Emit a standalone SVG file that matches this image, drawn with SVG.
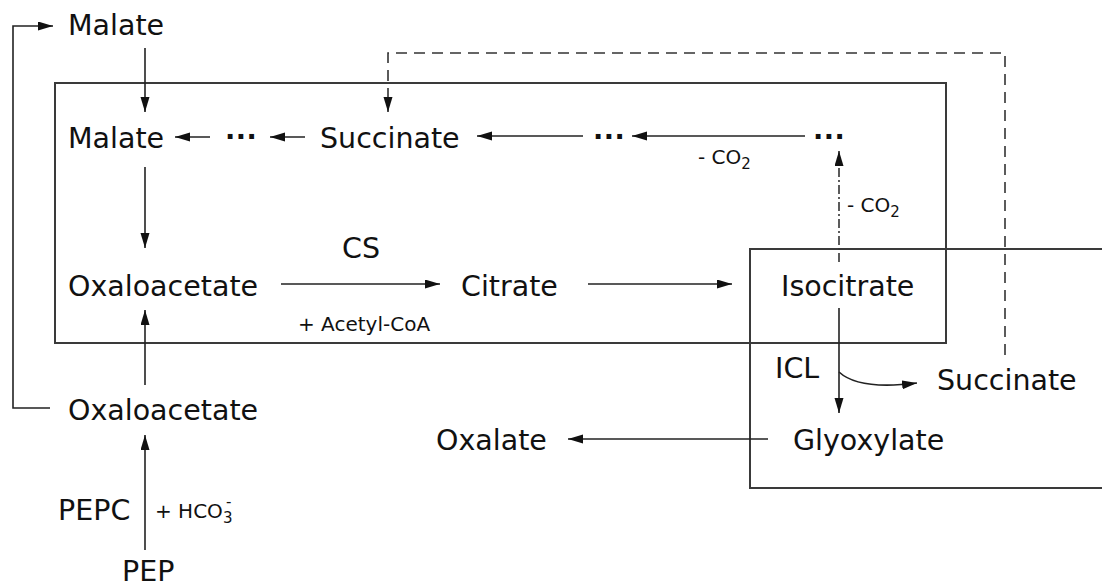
<svg xmlns="http://www.w3.org/2000/svg" width="1102" height="588" viewBox="0 0 1102 588">
<style>
text{font-family:"DejaVu Sans","Verdana",sans-serif;fill:#111}
.L{font-size:28.5px}
.S{font-size:20px}
.sub{font-size:15px}
.ln{fill:none;stroke:#222;stroke-width:1.6}
.box{fill:none;stroke:#3a3a3a;stroke-width:2}
.dash{fill:none;stroke:#333;stroke-width:1.6;stroke-dasharray:11 7}
.dd{fill:none;stroke:#333;stroke-width:1.6;stroke-dasharray:9 3 2 3}
.dots{font-size:27px;font-weight:bold;letter-spacing:0.5px}
</style>
<defs>
<marker id="ah" markerUnits="userSpaceOnUse" markerWidth="16" markerHeight="10" refX="15" refY="4.5" orient="auto">
<path d="M0,0 L15,4.5 L0,9 z" fill="#111"/>
</marker>
</defs>
<g id="compartments">
<rect id="mitochondrion" class="box" x="55" y="83" width="891" height="260"/>
<rect id="glyoxysome" class="box" x="750" y="249" width="362" height="239"/>
</g>
<g id="connectors">
<path class="ln" d="M50,408 H13 V26 H53" marker-end="url(#ah)"/>
<path class="ln" d="M145,48 V112" marker-end="url(#ah)"/>
<path class="ln" d="M210,137 H175" marker-end="url(#ah)"/>
<path class="ln" d="M305,137 H270" marker-end="url(#ah)"/>
<path class="ln" d="M583,136 H477" marker-end="url(#ah)"/>
<path class="ln" d="M805,136 H632" marker-end="url(#ah)"/>
<path class="dd" d="M839,262 V151" marker-end="url(#ah)"/>
<path class="ln" d="M145,167 V248" marker-end="url(#ah)"/>
<path class="ln" d="M145,385 V310" marker-end="url(#ah)"/>
<path class="ln" d="M145,550 V435" marker-end="url(#ah)"/>
<path class="ln" d="M281,284 H440" marker-end="url(#ah)"/>
<path class="ln" d="M588,284 H732" marker-end="url(#ah)"/>
<path class="ln" d="M839,308 V413" marker-end="url(#ah)"/>
<path class="ln" d="M839,372 C852,384 878,388 917,383" marker-end="url(#ah)"/>
<path class="ln" d="M768,439 H568" marker-end="url(#ah)"/>
<path class="dash" d="M1005,355 V53 H388 V112" marker-end="url(#ah)"/>
</g>
<g id="malate-cytosol"><text class="L" x="68" y="35">Malate</text></g>
<g id="malate-mito"><text class="L" x="68" y="148">Malate</text></g>
<g id="dots1"><text class="dots" x="225" y="146">···</text></g>
<g id="succinate-mito"><text class="L" x="320" y="148">Succinate</text></g>
<g id="dots2"><text class="dots" x="593" y="146">···</text></g>
<g id="dots3"><text class="dots" x="813" y="146">···</text></g>
<g id="co2-a"><text class="S" x="698" y="164">- CO<tspan class="sub" dy="5">2</tspan></text></g>
<g id="co2-b"><text class="S" x="847" y="212">- CO<tspan class="sub" dy="5">2</tspan></text></g>
<g id="oaa-mito"><text class="L" x="68" y="296">Oxaloacetate</text></g>
<g id="cs"><text class="L" x="342" y="258">CS</text></g>
<g id="acetylcoa"><text class="S" x="298" y="331">+ Acetyl-CoA</text></g>
<g id="citrate"><text class="L" x="461" y="296">Citrate</text></g>
<g id="isocitrate"><text class="L" x="781" y="296">Isocitrate</text></g>
<g id="icl"><text class="L" x="775" y="378">ICL</text></g>
<g id="succinate-glyox"><text class="L" x="937" y="390">Succinate</text></g>
<g id="glyoxylate"><text class="L" x="793" y="450">Glyoxylate</text></g>
<g id="oxalate"><text class="L" x="436" y="450">Oxalate</text></g>
<g id="oaa-cytosol"><text class="L" x="68" y="420">Oxaloacetate</text></g>
<g id="pepc"><text class="L" x="58" y="520">PEPC</text></g>
<g id="hco3"><text class="S" x="155" y="518">+ HCO<tspan class="sub" dy="5">3</tspan></text><text class="sub" x="226" y="507">-</text></g>
<g id="pep"><text class="L" x="122" y="581">PEP</text></g>
</svg>
